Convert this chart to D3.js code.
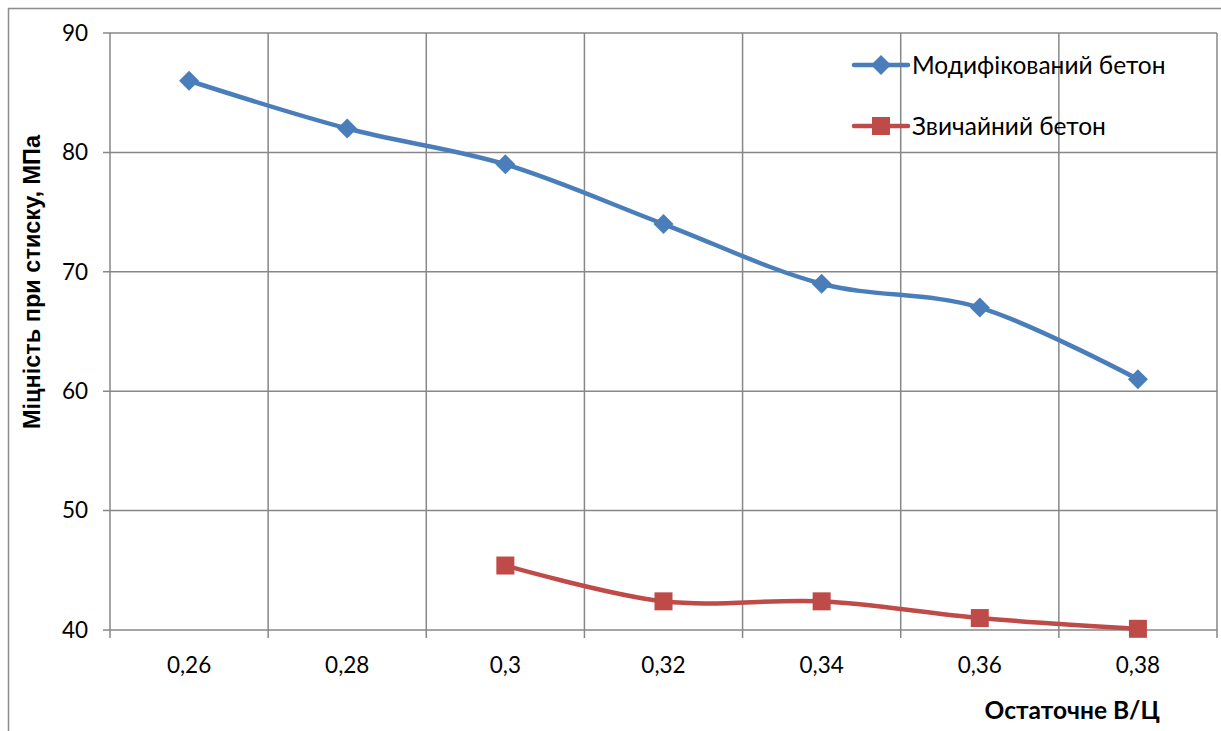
<!DOCTYPE html>
<html><head><meta charset="utf-8">
<script src="https://cdn.jsdelivr.net/npm/d3@7"></script>
<style>body{margin:0;background:#fff}svg{display:block}</style>
</head><body>
<svg id="c" width="1221" height="731"></svg>
<script>
const categories = ["0,26","0,28","0,3","0,32","0,34","0,36","0,38"];
const modified = [86, 82, 79, 74, 69, 67, 61];
const ordinary = [null, null, 45.4, 42.4, 42.4, 41.0, 40.1];
const yTicks = [40, 50, 60, 70, 80, 90];
const seriesNames = ["Модифікований бетон", "Звичайний бетон"];
const yTitle = "Міцність при стиску, МПа";
const xTitle = "Остаточне В/Ц";

const svg = d3.select("#c");
const L = 110, R = 1217, T = 33, B = 630;
const x = d3.scaleBand().domain(categories).range([L, R]);
const y = d3.scaleLinear().domain([40, 90]).range([B, T]);
const grid = "#878787";
const tickFont = "Lato, 'Open Sans', sans-serif";

// outer border
svg.append("path").attr("d", `M8.5,731 V8.5 H1221`).attr("fill","none").attr("stroke","#8c8c8c").attr("stroke-width",1.5);

// horizontal grid + y ticks
yTicks.forEach(v => {
  svg.append("line").attr("x1", L-7).attr("x2", R).attr("y1", y(v)).attr("y2", y(v))
    .attr("stroke", grid).attr("stroke-width", 1.5);
  svg.append("text").attr("x", 88).attr("y", y(v)).attr("dy","0.35em").attr("text-anchor","end")
    .attr("font-family", tickFont).attr("font-size", 22.5).attr("fill","#000").text(v);
});
// vertical grid at band boundaries
const bounds = categories.map(c => x(c)).concat([R]);
bounds.forEach(bx => {
  svg.append("line").attr("x1", bx).attr("x2", bx).attr("y1", T).attr("y2", B+8)
    .attr("stroke", grid).attr("stroke-width", 1.5);
});
// x labels
categories.forEach(c => {
  svg.append("text").attr("x", x(c)+x.bandwidth()/2).attr("y", 673).attr("text-anchor","middle")
    .attr("font-family", tickFont).attr("font-size", 22.5).attr("fill","#000").text(c);
});
// titles
svg.append("text").attr("transform", `translate(40,282) rotate(-90)`).attr("text-anchor","middle")
  .attr("font-family","'Liberation Sans', Arial, sans-serif").attr("font-weight","bold").attr("font-size",23.5)
  .text(yTitle);
svg.append("text").attr("x", 1160).attr("y", 719).attr("text-anchor","end")
  .attr("font-family", tickFont).attr("font-weight","bold").attr("font-size",24.5).text(xTitle);

const cx = c => x(c) + x.bandwidth()/2;
const line = d3.line().defined(d => d.v != null).x(d => cx(d.c)).y(d => y(d.v)).curve(d3.curveCatmullRom.alpha(0));

const colors = ["#4A7EBB", "#BE4B48"];
const data = [modified, ordinary];

function marker(g, type, px, py, color) {
  if (type === 0) {
    g.append("path").attr("d", `M${px},${py-10} L${px+10},${py} L${px},${py+10} L${px-10},${py} Z`).attr("fill", color);
  } else {
    g.append("rect").attr("x", px-9).attr("y", py-9).attr("width", 18).attr("height", 18).attr("fill", color);
  }
}

data.forEach((vals, i) => {
  const pts = categories.map((c, j) => ({c, v: vals[j]}));
  svg.append("path").datum(pts).attr("d", line).attr("fill","none").attr("stroke", colors[i]).attr("stroke-width", 4.5)
    .attr("stroke-linecap","round");
  const g = svg.append("g");
  pts.filter(p => p.v != null).forEach(p => marker(g, i, cx(p.c), y(p.v), colors[i]));
});

// legend
seriesNames.forEach((n, i) => {
  const ly = 65 + i*61;
  svg.append("line").attr("x1", 854).attr("x2", 908).attr("y1", ly).attr("y2", ly)
    .attr("stroke", colors[i]).attr("stroke-width", 4.5).attr("stroke-linecap","round");
  marker(svg, i, 881, ly, colors[i]);
  svg.append("text").attr("x", 912).attr("y", ly).attr("dy","0.35em")
    .attr("font-family", tickFont).attr("font-size", 24.5).attr("fill","#000").text(n);
});
</script>
</body></html>
